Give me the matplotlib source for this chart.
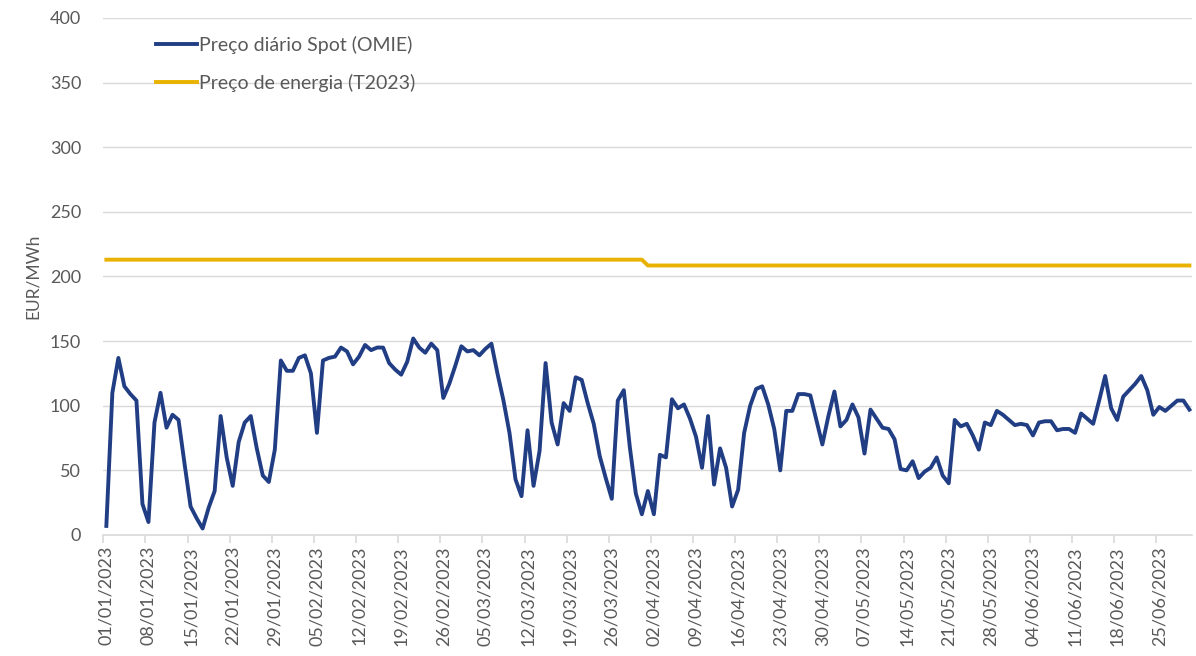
import numpy as np
import pandas as pd
import matplotlib
matplotlib.use("Agg")
import matplotlib.pyplot as plt
from matplotlib.ticker import FixedLocator, NullFormatter

plt.rcParams['font.family'] = ['Lato', 'DejaVu Sans']

# daily dates 01/01/2023 .. 30/06/2023
dates = pd.date_range("2023-01-01", "2023-06-30", freq="D")

# OMIE daily spot price (EUR/MWh)
spot = [7, 110, 137, 115, 109, 104, 24, 10, 87, 110,
        83, 93, 89, 55, 22, 13, 5, 21, 34, 92,
        60, 38, 72, 87, 92, 67, 46, 41, 66, 135,
        127, 127, 137, 139, 125, 79, 135, 137, 138, 145,
        142, 132, 138, 147, 143, 145, 145, 133, 128, 124,
        134, 152, 145, 141, 148, 143, 106, 117, 131, 146,
        142, 143, 139, 144, 148, 125, 104, 79, 43, 30,
        81, 38, 65, 133, 87, 70, 102, 96, 122, 120,
        102, 86, 61, 44, 28, 104, 112, 68, 32, 16,
        34, 16, 62, 60, 105, 98, 101, 90, 76, 52,
        92, 39, 67, 52, 22, 35, 79, 100, 113, 115,
        101, 82, 50, 96, 96, 109, 109, 108, 89, 70,
        92, 111, 84, 89, 101, 91, 63, 97, 90, 83,
        82, 74, 51, 50, 57, 44, 49, 52, 60, 46,
        40, 89, 84, 86, 77, 66, 87, 85, 96, 93,
        89, 85, 86, 85, 77, 87, 88, 88, 81, 82,
        82, 79, 94, 90, 86, 104, 123, 98, 89, 107,
        112, 117, 123, 112, 93, 99, 96, 100, 104, 104,
        97]

# regulated energy price T2023: one value for Q1, another from April
tariff_q1 = 213.0
tariff_q2 = 208.5
tariff = [tariff_q1 if d < pd.Timestamp("2023-04-01") else tariff_q2 for d in dates]

BLUE = "#213E85"
GOLD = "#E9B200"
GREY = "#595959"
GRID = "#D9D9D9"

fig = plt.figure(figsize=(11.96, 6.56), dpi=100)
ax = fig.add_axes([0.0864, 0.1845, 0.9106, 0.7881])

x = np.arange(len(dates))
ax.plot(x, spot, color=BLUE, lw=2.8, label="Preço diário Spot (OMIE)", solid_joinstyle="round")
ax.plot(x, tariff, color=GOLD, lw=2.8, label="Preço de energia (T2023)")

ax.set_xlim(-0.5, len(dates) - 0.5)
ax.set_ylim(0, 400)
ax.set_yticks(np.arange(0, 401, 50))
ax.grid(axis="y", color=GRID, lw=1)
ax.set_axisbelow(True)

for s in ["top", "right", "left"]:
    ax.spines[s].set_visible(False)
ax.spines["bottom"].set_color(GRID)
ax.spines["bottom"].set_linewidth(1.2)

# tick marks on week boundaries, labels at the week's first day
weeks = np.arange(0, len(dates), 7)
ax.xaxis.set_major_locator(FixedLocator(weeks - 0.5))
ax.xaxis.set_major_formatter(NullFormatter())
ax.xaxis.set_minor_locator(FixedLocator(weeks))
ax.set_xticklabels([dates[i].strftime("%d/%m/%Y") for i in weeks], minor=True,
                   rotation=90, fontsize=13, color=GREY)
ax.tick_params(axis="x", which="major", length=6, width=1.2, color=GRID, direction="out")
ax.tick_params(axis="x", which="minor", length=0, pad=8)
ax.tick_params(axis="y", length=0, pad=16, labelsize=13, labelcolor=GREY)

ax.set_ylabel("EUR/MWh", fontsize=12.5, color=GREY)
ax.yaxis.set_label_coords(-0.057, 0.5)

ax.legend(loc="upper left", bbox_to_anchor=(0.032, 0.999), frameon=False,
          fontsize=14, labelcolor=GREY, handlelength=2.1, handletextpad=0.15,
          labelspacing=1.0)

fig.savefig("out.png", dpi=100)
